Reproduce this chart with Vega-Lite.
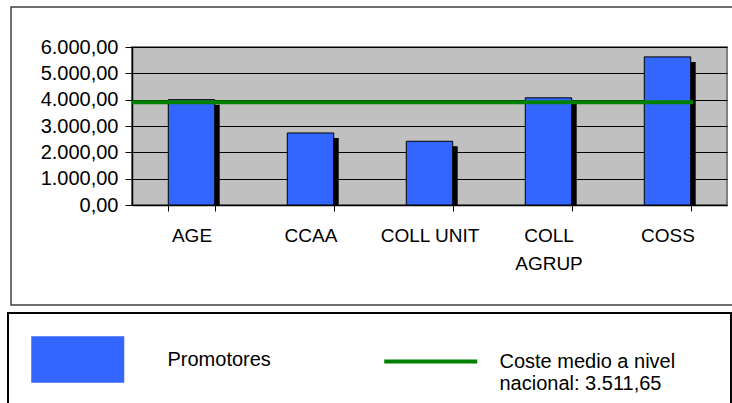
{
  "$schema": "https://vega.github.io/schema/vega-lite/v6.json",
  "width": 595,
  "height": 158,
  "autosize": {"type": "none"},
  "padding": {"left": 132, "top": 47, "right": 5, "bottom": 198},
  "background": "white",
  "view": {"fill": "#C0C0C0", "stroke": "#808080", "strokeWidth": 2},
  "config": {
    "locale": {"number": {"decimal": ",", "thousands": ".", "grouping": [3], "currency": ["", " €"]}},
    "view": {"fill": "#C0C0C0", "stroke": "#808080", "strokeWidth": 2},
    "font": "Liberation Sans",
    "axisX": {
      "title": null, "labelAngle": 0, "labelFontSize": 19, "labelColor": "black",
      "labelPadding": 15, "tickSize": 6, "tickBand": "extent", "tickColor": "black",
      "domainColor": "black", "domainWidth": 1.5, "labelLineHeight": 28, "grid": false
    },
    "axisY": {
      "title": null, "labelFontSize": 20, "labelColor": "black", "labelPadding": 7, "tickSize": 7,
      "tickColor": "black", "domainColor": "black", "domainWidth": 1.5,
      "grid": true, "gridWidth": 1, "gridColor": "black", "labelOverlap": false
    }
  },
  "resolve": {"scale": {"fill": "independent"}},
  "datasets": {
    "barras": [
      {"categoria": "AGE", "coste": 4000, "serie": "Promotores"},
      {"categoria": "CCAA", "coste": 2735, "serie": "Promotores"},
      {"categoria": "COLL UNIT", "coste": 2420, "serie": "Promotores"},
      {"categoria": "COLL AGRUP", "coste": 4070, "serie": "Promotores"},
      {"categoria": "COSS", "coste": 5625, "serie": "Promotores"}
    ],
    "media": [
      {"desde": "AGE", "hasta": "COSS", "coste": 3905, "serie": "Coste medio a nivel nacional: 3.511,65"}
    ]
  },
  "layer": [
    {
      "data": {"name": "barras"},
      "mark": {"type": "bar", "color": "black", "xOffset": 5, "yOffset": 5, "clip": true},
      "encoding": {
        "x": {
          "field": "categoria", "type": "nominal",
          "scale": {"domain": ["AGE", "CCAA", "COLL UNIT", "COLL AGRUP", "COSS"], "paddingInner": 0.61, "paddingOuter": 0.305},
          "axis": {"labelExpr": "datum.value === 'COLL AGRUP' ? ['COLL', 'AGRUP'] : datum.value"}
        },
        "y": {
          "field": "coste", "type": "quantitative",
          "scale": {"domain": [0, 6000], "nice": false},
          "axis": {"values": [0, 1000, 2000, 3000, 4000, 5000, 6000], "tickCount": 7, "format": ",.2f", "labelOverlap": false}
        }
      }
    },
    {
      "data": {"name": "barras"},
      "mark": {"type": "bar", "stroke": "black", "strokeWidth": 1},
      "encoding": {
        "x": {
          "field": "categoria", "type": "nominal",
          "axis": {"labelExpr": "datum.value === 'COLL AGRUP' ? ['COLL', 'AGRUP'] : datum.value"}
        },
        "y": {
          "field": "coste", "type": "quantitative",
          "axis": {"values": [0, 1000, 2000, 3000, 4000, 5000, 6000], "tickCount": 7, "format": ",.2f", "labelOverlap": false}
        },
        "color": {
          "field": "serie", "type": "nominal",
          "scale": {"range": ["#3366FF"]},
          "legend": {
            "title": null, "orient": "none", "legendX": -101, "legendY": 289,
            "padding": 0, "symbolType": "M-1,-1H3V1H-1Z", "symbolSize": 2162,
            "symbolOpacity": 1, "symbolStrokeWidth": 0, "labelOffset": 89.5,
            "labelFontSize": 20, "labelColor": "black", "labelLimit": 400
          }
        }
      }
    },
    {
      "data": {"name": "media"},
      "mark": {"type": "rule", "strokeWidth": 4},
      "encoding": {
        "x": {"field": "desde", "type": "nominal", "bandPosition": -0.78},
        "x2": {"field": "hasta", "bandPosition": 1.05},
        "y": {
          "field": "coste", "type": "quantitative",
          "axis": {"values": [0, 1000, 2000, 3000, 4000, 5000, 6000], "tickCount": 7, "format": ",.2f", "labelOverlap": false}
        },
        "stroke": {
          "field": "serie", "type": "nominal",
          "scale": {"range": ["#008000"]},
          "legend": {
            "title": null, "orient": "none", "legendX": 250, "legendY": 289,
            "padding": 0, "symbolType": "M-1,0H3", "symbolSize": 2162,
            "symbolStrokeWidth": 4, "symbolOpacity": 1, "labelOffset": 66.5,
            "labelFontSize": 20, "labelColor": "black", "labelLimit": 400, "labelLineHeight": 23,
            "labelExpr": "['Coste medio a nivel', 'nacional: 3.511,65']"
          }
        }
      }
    },
    {
      "data": {"name": "barras"},
      "mark": {"type": "text"},
      "encoding": {
        "text": {"value": ""},
        "fill": {
          "field": "coste", "type": "quantitative",
          "scale": {"range": ["transparent", "transparent"]},
          "legend": {
            "title": null, "orient": "none", "legendX": -121, "legendY": -40,
            "direction": "horizontal", "gradientLength": 760, "gradientThickness": 298,
            "gradientStrokeColor": "#404040", "gradientStrokeWidth": 1.5,
            "labelExpr": "''", "labelOpacity": 0, "padding": 0
          }
        }
      }
    },
    {
      "data": {"name": "barras"},
      "mark": {"type": "text"},
      "encoding": {
        "text": {"value": ""},
        "fill": {
          "field": "coste", "type": "quantitative",
          "scale": {"range": ["transparent", "transparent"]},
          "legend": {
            "title": null, "orient": "none", "legendX": -124, "legendY": 266,
            "direction": "horizontal", "gradientLength": 723, "gradientThickness": 140,
            "gradientStrokeColor": "black", "gradientStrokeWidth": 2,
            "labelExpr": "''", "labelOpacity": 0, "padding": 0
          }
        }
      }
    }
  ]
}
